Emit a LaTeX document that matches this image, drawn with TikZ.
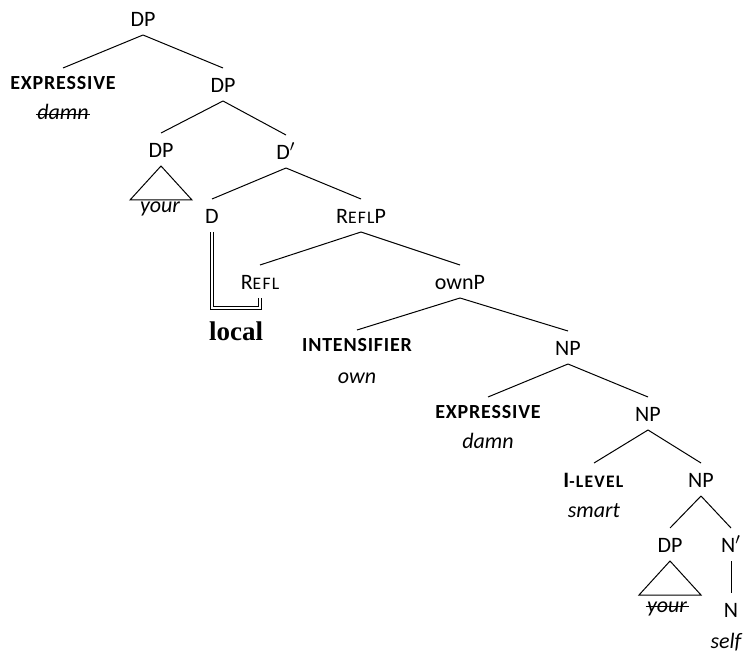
\documentclass[tikz,border=0pt]{standalone}
\usepackage{fontspec}
\setmainfont{Carlito}
\newfontfamily\localfont{Liberation Serif}

\newcommand\fsc[1]{{\fontsize{8.8}{10}\selectfont\addfontfeature{LetterSpace=7}#1}}
\newcommand\feat[1]{{\fontsize{10}{12}\selectfont\bfseries\addfontfeature{LetterSpace=4}#1}}

\begin{document}
\begin{tikzpicture}[line width=0.5pt,
  font=\fontsize{11}{13}\selectfont,
  cat/.style={anchor=north,inner sep=2pt,text height=10pt,text depth=2pt},
  ftr/.style={cat,text height=8.5pt},
  lex/.style={anchor=base,inner sep=0pt,font=\fontsize{11}{13}\selectfont\itshape},
  dbl/.style={double,double distance=0.8pt,line width=0.45pt},
  strike/.style={line width=0.45pt,shorten <=-0.5pt,shorten >=-0.5pt}]

  \useasboundingbox (0pt,0pt) rectangle (373.5pt,-325.5pt);

  %% nodes
  \node[cat] (dpA) at ( 71.5pt,  -1pt) {DP};
  \node[ftr] (exprA) at ( 31.5pt, -34pt) {\feat{EXPRESSIVE}};
  \node[lex] (damnA) at ( 31.5pt, -60pt) {damn};
  \node[cat] (dpB) at (111.5pt, -34pt) {DP};
  \node[cat] (dpC) at ( 80.5pt, -66.5pt) {DP};
  \node[lex] (yourA) at ( 80pt, -106.5pt) {your};
  \node[cat] (dbar) at (143pt, -67.5pt) {D$'$};
  \node[cat] (d) at (106pt, -99.5pt) {D};
  \node[cat] (reflp) at (180.5pt, -99.5pt) {R\fsc{EFL}P};
  \node[cat] (refl) at (130pt, -132.5pt) {R\fsc{EFL}};
  \node[anchor=base,inner sep=0pt,font=\fontsize{13.5}{15}\selectfont\localfont\bfseries]
    (local) at (118pt, -170pt) {local};
  \coordinate (bend) at (130pt, -154pt);

  \node[cat] (ownp) at (230pt, -132.5pt) {ownP};
  \node[ftr] (intens) at (178.5pt, -165pt) {\feat{INTENSIFIER}};
  \node[lex] (own) at (178.5pt, -191.5pt) {own};
  \node[cat] (npA) at (284pt, -165.5pt) {NP};
  \node[ftr] (exprB) at (244pt, -198.5pt) {\feat{EXPRESSIVE}};
  \node[lex] (damnB) at (244pt, -224pt) {damn};
  \node[cat] (npB) at (324pt, -198.5pt) {NP};
  \node[cat] (ilevel) at (297pt, -231.5pt) {\textbf{I\fsc{-LEVEL}}};
  \node[lex] (smart) at (297pt, -258.5pt) {smart};
  \node[cat] (npC) at (350.5pt, -231.5pt) {NP};
  \node[cat] (dpD) at (335pt, -264pt) {DP};
  \node[lex] (yourB) at (333.5pt, -306pt) {your};
  \node[cat] (nbar) at (365.5pt, -264pt) {N$'$};
  \node[cat] (n) at (365.5pt, -296.5pt) {N};
  \node[lex] (self) at (363pt, -324pt) {self};

  %% node to node
  \draw (dpA.south) -- (exprA.north);
  \draw (dpA.south) -- (dpB.north);
  \draw (dpB.south) -- (dpC.north);
  \draw (dpB.south) -- (dbar.north);
  \draw (dbar.south) -- (d.north);
  \draw (dbar.south) -- (reflp.north);
  \draw (reflp.south) -- (refl.north);
  \draw (reflp.south) -- (ownp.north);
  \draw (ownp.south) -- (intens.north);
  \draw (ownp.south) -- (npA.north);
  \draw (npA.south) -- (exprB.north);
  \draw (npA.south) -- (npB.north);
  \draw (npB.south) -- (ilevel.north);
  \draw (npB.south) -- (npC.north);
  \draw (npC.south) -- (dpD.north);
  \draw (npC.south) -- (nbar.north);
  \draw (nbar.south) -- (n.north);

  %% triangles
  \draw (dpC.south) -- ++(-15.5pt,-17pt) -- ++(31pt,0pt) -- cycle;
  \draw (dpD.south) -- ++(-15.5pt,-17pt) -- ++(31pt,0pt) -- cycle;

  %% struck words
  \draw[strike] ([yshift=2.6pt]damnA.base west) -- ([yshift=2.6pt]damnA.base east);
  \draw[strike] ([yshift=2.6pt]yourB.base west) -- ([yshift=2.6pt]yourB.base east);

  %% D = Refl
  \draw[dbl] (d.south) |- (bend) -- (refl.south);

\end{tikzpicture}
\end{document}
